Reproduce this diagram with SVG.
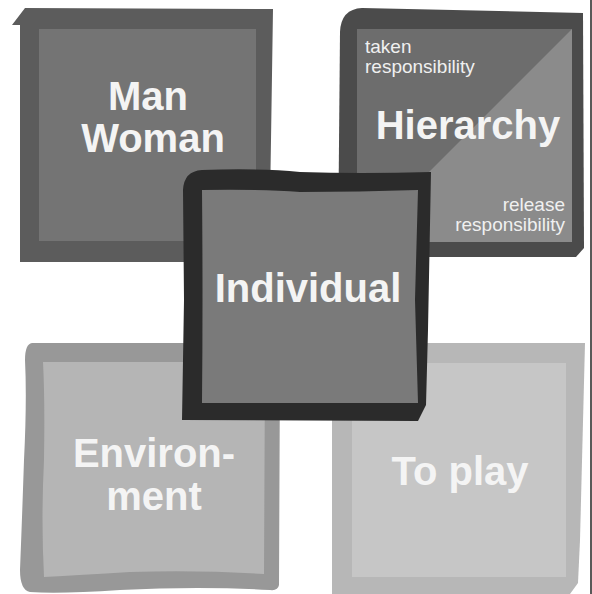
<svg xmlns="http://www.w3.org/2000/svg" width="592" height="594" viewBox="0 0 592 594">
<style>
.big{font-family:"Liberation Sans",Arial,sans-serif;font-weight:bold;font-size:40px;fill:#f4f4f4;text-anchor:middle}
.small{font-family:"Liberation Sans",Arial,sans-serif;font-size:19px;fill:#f0f0f0}
</style>
<rect width="592" height="594" fill="#ffffff"/>
<line x1="591" y1="0" x2="591" y2="594" stroke="#222" stroke-width="1.5"/>

<g id="manwoman">
<path d="M12,25 L25,8 L273,9 L271,140 L269,262 L20,262 L20,25 Z" fill="#5c5c5c"/>
<rect x="39" y="29" width="217" height="212" fill="#747474"/>
<text class="big" x="148" y="110">Man</text>
<text class="big" x="153" y="152">Woman</text>
</g>

<g id="hierarchy">
<path d="M362,8 L583,13 L584,248 L576,257 L338,257 L340,32 Q341,9 362,8 Z" fill="#4b4b4b"/>
<polygon points="357,29 572,29 572,242 357,242" fill="#8b8b8b"/>
<polygon points="357,29 572,29 357,244" fill="#6d6d6d"/>
<text class="small" x="365" y="53">taken</text>
<text class="small" x="365" y="73">responsibility</text>
<text class="big" x="468" y="139">Hierarchy</text>
<text class="small" x="565" y="211" text-anchor="end">release</text>
<text class="small" x="565" y="231" text-anchor="end">responsibility</text>
</g>

<g id="environment">
<path d="M32,343 L275,343 Q281,345 280,360 L279,585 Q278,591 270,590 Q200,586 120,590 Q60,594 30,592 Q20,590 20,570 Q22,520 24,460 Q27,400 25,360 Q25,344 32,343 Z" fill="#989898"/>
<path d="M43,362 L265,362 L264,574 Q200,570 130,572 Q80,575 44,577 Q41,520 44,460 Q45,400 43,362 Z" fill="#b5b5b5"/>
<text class="big" x="154" y="467">Environ-</text>
<text class="big" x="154" y="510">ment</text>
</g>

<g id="toplay">
<path d="M332,343 L585,343 L580,540 L578,583 L570,594 L332,594 Z" fill="#b7b7b7"/>
<rect x="352" y="363" width="214" height="214" fill="#c6c6c6"/>
<text class="big" x="460" y="485">To play</text>
</g>

<g id="individual">
<path d="M202,170 Q260,168 300,172 Q360,174 431,172 L428,330 L426,405 L418,421 L182,420 L184,300 L183,190 Q184,171 202,170 Z" fill="#2b2b2b"/>
<path d="M202,190 Q260,189 300,192 Q360,192 418,190 L415,300 L418,403 L202,403 Q203,300 202,190 Z" fill="#7a7a7a"/>
<text class="big" x="308" y="302">Individual</text>
</g>

<g id="connectors"></g>
</svg>
